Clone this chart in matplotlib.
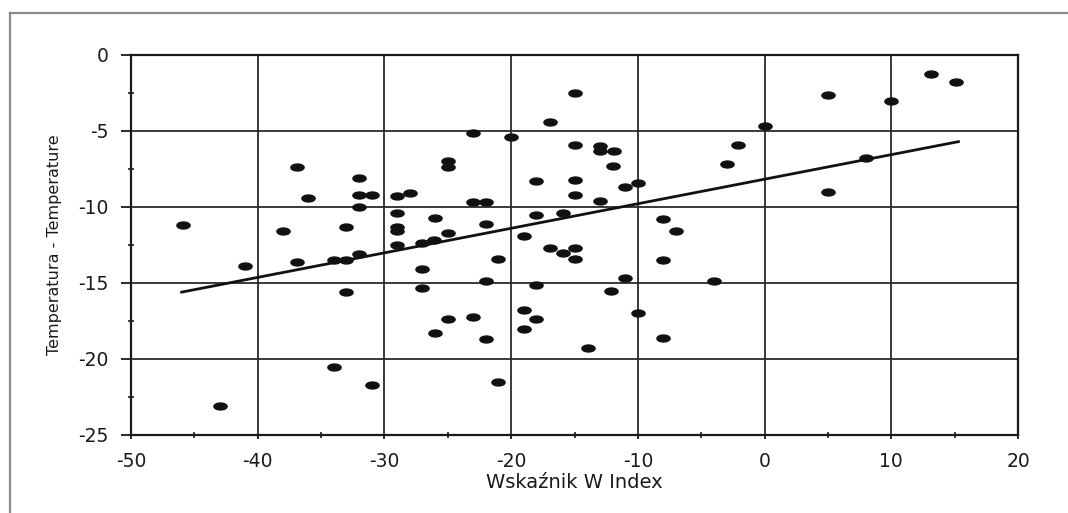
import numpy as np
import matplotlib
matplotlib.use("Agg")
import matplotlib.pyplot as plt
from matplotlib.path import Path
from matplotlib.transforms import Affine2D
from matplotlib.lines import Line2D
from matplotlib.ticker import MultipleLocator

# ---- data ----
w_index = [
    -45.9, -43.0, -41.0, -38.0, -36.9, -36.9, -36.0, -34.0, -34.0, -33.0,
    -33.0, -33.0, -32.0, -32.0, -31.0, -32.0, -32.0, -31.0, -29.0, -28.0,
    -29.0, -29.0, -29.0, -29.0, -27.0, -26.1, -27.0, -27.0, -26.0, -26.0,
    -25.0, -25.0, -25.0, -25.0, -23.0, -23.0, -22.0, -23.0, -22.0, -22.0,
    -22.0, -21.0, -21.0, -20.0, -19.0, -19.0, -19.0, -18.0, -18.0, -18.0,
    -18.0, -16.9, -16.9, -15.9, -15.9, -15.0, -15.0, -15.0, -15.0, -15.0,
    -15.0, -13.9, -13.0, -13.0, -11.9, -12.0, -13.0, -12.1, -11.0, -11.0,
    -10.0, -10.0, -8.0, -8.0, -8.0, -7.0, -4.0,
    -3.0, -2.1, 0.0, 5.0, 5.0, 8.0, 10.0, 13.1, 15.1,
]
temperature = [
    -11.2, -23.1, -13.9, -11.6, -7.4, -13.6, -9.4, -20.5, -13.5, -13.5,
    -11.3, -15.6, -8.1, -9.2, -9.2, -10.0, -13.1, -21.7, -9.3, -9.1,
    -10.4, -11.3, -11.6, -12.5, -12.4, -12.2, -14.1, -15.3, -10.7, -18.3,
    -7.0, -7.4, -11.7, -17.4, -5.1, -9.7, -9.7, -17.25, -11.1, -14.9,
    -18.7, -13.4, -21.5, -5.4, -11.9, -16.8, -18.0, -8.3, -10.5, -15.1,
    -17.4, -4.4, -12.7, -10.4, -13.0, -2.5, -5.9, -8.2, -9.2, -12.7,
    -13.4, -19.3, -6.0, -6.3, -6.3, -7.3, -9.6, -15.5, -8.7, -14.7,
    -8.4, -17.0, -10.8, -13.5, -18.6, -11.6, -14.9,
    -7.2, -5.9, -4.7, -2.6, -9.0, -6.8, -3.0, -1.25, -1.75,
]
trend_x = [-46.0, 15.3]
trend_y = [-15.6, -5.7]

x_ticks = [-50, -40, -30, -20, -10, 0, 10, 20]
y_ticks = [0, -5, -10, -15, -20, -25]
x_label = "Wskaźnik W Index"
y_label = "Temperatura - Temperature"

# ---- figure ----
plt.rcParams['font.family'] = ['DejaVu Sans']
fig = plt.figure(figsize=(10.68, 5.13), dpi=100)
fig.patch.set_facecolor('white')

# outer frame (top and left)
fig.add_artist(Line2D([10/1068, 1.0], [1 - 13/513, 1 - 13/513],
                      transform=fig.transFigure, color='#8a8a8a', lw=1.6))
fig.add_artist(Line2D([10/1068, 10/1068], [0.0, 1 - 13/513],
                      transform=fig.transFigure, color='#8a8a8a', lw=1.6))

ax = fig.add_axes([131/1068, (513-435)/513, 887/1068, 380/513])
ax.set_xlim(-50, 20)
ax.set_ylim(-25, 0)
ax.set_xticks(x_ticks)
ax.set_yticks(y_ticks)
ax.set_xticklabels([str(v) for v in x_ticks])
ax.set_yticklabels([str(v) for v in y_ticks])
ax.xaxis.set_minor_locator(MultipleLocator(5))
ax.yaxis.set_minor_locator(MultipleLocator(2.5))

ax.grid(True, which='major', color='#2a2a2a', lw=1.3)
ax.set_axisbelow(True)
for s in ax.spines.values():
    s.set_color('#1a1a1a')
    s.set_linewidth(1.6)

ax.tick_params(axis='x', which='major', direction='out', length=3, width=1.3,
               pad=9, labelsize=13.5, colors='#1a1a1a')
ax.tick_params(axis='x', which='minor', direction='inout', length=5, width=1.2,
               colors='#1a1a1a')
ax.tick_params(axis='y', which='major', direction='out', length=7, width=1.3,
               pad=9, labelsize=13.5, colors='#1a1a1a')
ax.tick_params(axis='y', which='minor', direction='inout', length=5, width=1.2,
               colors='#1a1a1a')

# elliptical marker (the reference dots are wider than tall)
ell = Path.unit_circle().transformed(Affine2D().scale(1.9, 1.0))
ax.plot(w_index, temperature, linestyle='none', marker=ell, markersize=9.5,
        color='#111111', zorder=3)
ax.plot(trend_x, trend_y, color='#111111', lw=2.0, zorder=4)

ax.set_xlabel(x_label, fontsize=14, color='#1a1a1a', va='top')
ax.set_ylabel(y_label, fontsize=11.5, color='#1a1a1a')
ax.xaxis.set_label_coords(0.5, -0.1)
ax.yaxis.set_label_coords(-0.078, 0.5)

fig.savefig("out.png", dpi=100, facecolor='white')
